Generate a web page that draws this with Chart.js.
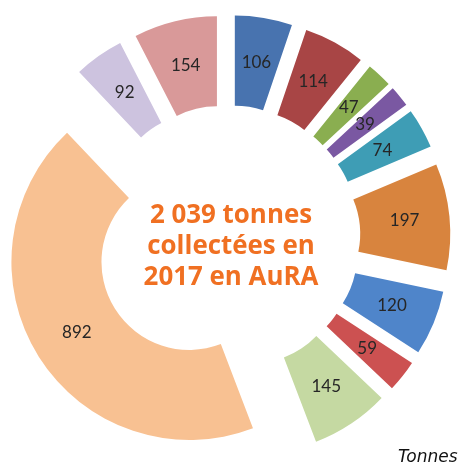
<!DOCTYPE html>
<html>
<head>
<meta charset="utf-8">
<script src="https://cdn.jsdelivr.net/npm/chart.js@4"></script>
<style>
html,body{margin:0;padding:0;background:#fff;}
#wrap{width:466px;height:463px;}
</style>
</head>
<body>
<div id="wrap"><canvas id="c" width="466" height="463"></canvas></div>
<script>
const categories = ['A','B','C','D','E','F','G','H','I','J','K','L'];
const values = [106, 114, 47, 39, 74, 197, 120, 59, 145, 892, 92, 154];
const colors = ['#4873AF','#A84545','#8AAE50','#7A58A2','#3E9DB5','#D8843E','#4F85CA','#CC5151','#C5D9A2','#F8C192','#CDC3DF','#D99999'];
const centerLines = ['2 039 tonnes','collectées en','2017 en AuRA'];
const unitLabel = 'Tonnes';
const explode = 45; // outward shift of each slice in px

// Exploded slices: shift each arc radially along its mid-angle, then let Chart.js draw it.
const origArcDraw = Chart.ArcElement.prototype.draw;
Chart.ArcElement.prototype.draw = function (ctx) {
  const mid = (this.startAngle + this.endAngle) / 2;
  ctx.save();
  ctx.translate(Math.cos(mid) * explode, Math.sin(mid) * explode);
  origArcDraw.call(this, ctx);
  ctx.restore();
};

const labelPlugin = {
  id: 'sliceLabels',
  afterDatasetsDraw(chart) {
    const ctx = chart.ctx;
    const meta = chart.getDatasetMeta(0);
    ctx.save();
    ctx.font = '17px Lato, "Open Sans", sans-serif';
    ctx.fillStyle = '#262626';
    ctx.textAlign = 'center';
    ctx.textBaseline = 'middle';
    meta.data.forEach((arc, i) => {
      const p = arc.getProps(['x','y','startAngle','endAngle','innerRadius','outerRadius']);
      const mid = (p.startAngle + p.endAngle) / 2;
      const r = explode + (p.innerRadius + p.outerRadius) / 2;
      ctx.fillText(String(values[i]), p.x + Math.cos(mid) * r, p.y + Math.sin(mid) * r);
    });
    // center text
    ctx.fillStyle = '#F07022';
    let fs = 24;
    ctx.font = 'bold ' + fs + 'px "Open Sans", sans-serif';
    fs = fs * 162 / ctx.measureText(centerLines[0]).width;
    ctx.font = 'bold ' + fs.toFixed(1) + 'px "Open Sans", sans-serif';
    const cx = 231;
    const cy = 247;
    centerLines.forEach((t, k) => ctx.fillText(t, cx, cy + (k - 1) * 31));
    // unit
    ctx.font = 'italic 17px "DejaVu Sans", sans-serif';
    ctx.fillStyle = '#111';
    ctx.textAlign = 'left';
    ctx.textBaseline = 'alphabetic';
    ctx.fillText(unitLabel, 398, 462);
    ctx.restore();
  }
};

new Chart(document.getElementById('c'), {
  type: 'doughnut',
  data: {
    labels: categories,
    datasets: [{
      data: values,
      backgroundColor: colors,
      borderWidth: 0,
      offset: 0
    }]
  },
  options: {
    responsive: false,
    devicePixelRatio: 1,
    animation: false,
    radius: 178,
    cutout: '49.4%',
    layout: { padding: { left: 0, right: 11, top: 13, bottom: 0 } },
    plugins: { legend: { display: false }, tooltip: { enabled: false } }
  },
  plugins: [labelPlugin]
});
</script>
</body>
</html>
